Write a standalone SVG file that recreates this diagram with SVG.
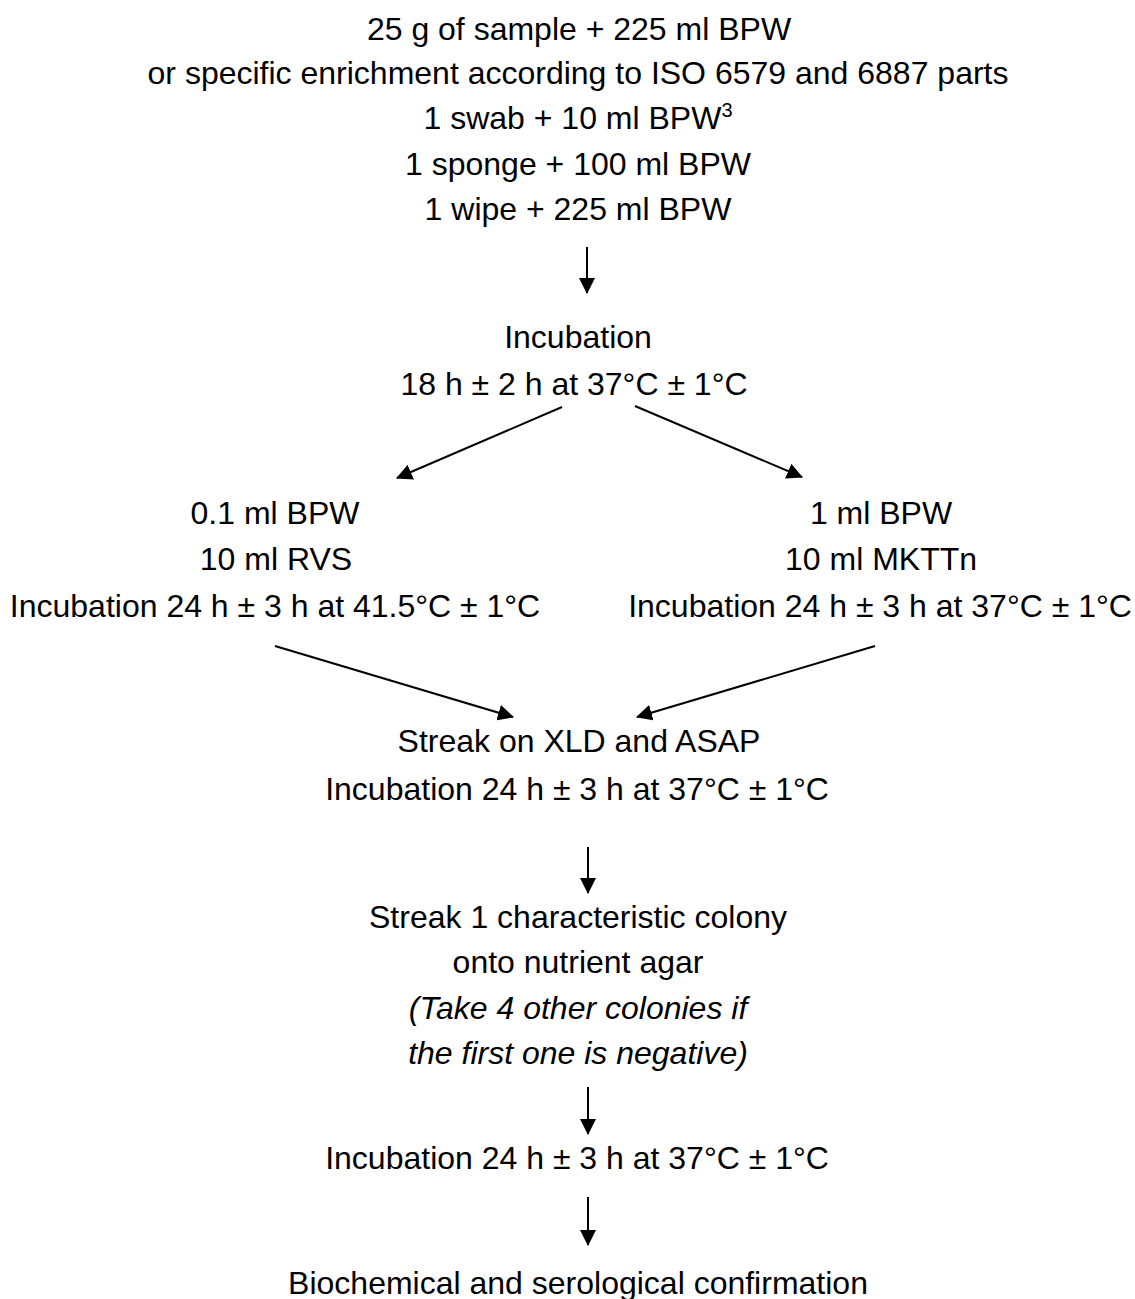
<svg xmlns="http://www.w3.org/2000/svg" width="1135" height="1299" viewBox="0 0 1135 1299">
<style>
text{font-family:"Liberation Sans",Arial,sans-serif;font-size:32px;fill:#000;text-anchor:middle}
.it{font-style:italic}
.c{stroke:#000;stroke-width:2;fill:none}
</style>
<defs>
<marker id="ah" markerWidth="16" markerHeight="16" viewBox="0 0 16 16" refX="15" refY="8" orient="auto" markerUnits="userSpaceOnUse">
<path d="M0,0 L16,8 L0,16 z" fill="#000"/>
</marker>
</defs>
<rect width="1135" height="1299" fill="#fff"/>
<g id="n1">
<text x="579" y="40">25 g of sample + 225 ml BPW</text>
<text x="578" y="84">or specific enrichment according to ISO 6579 and 6887 parts</text>
<text x="578" y="129">1 swab + 10 ml BPW<tspan font-size="20" dy="-12">3</tspan></text>
<text x="578" y="175">1 sponge + 100 ml BPW</text>
<text x="578" y="220">1 wipe + 225 ml BPW</text>
</g>
<g id="n2">
<text x="578" y="348">Incubation</text>
<text x="574" y="395">18 h ± 2 h at 37°C ± 1°C</text>
</g>
<g id="n3">
<text x="275" y="524">0.1 ml BPW</text>
<text x="276" y="570">10 ml RVS</text>
<text x="275" y="617">Incubation 24 h ± 3 h at 41.5°C ± 1°C</text>
</g>
<g id="n4">
<text x="881" y="524">1 ml BPW</text>
<text x="881" y="570">10 ml MKTTn</text>
<text x="880" y="617">Incubation 24 h ± 3 h at 37°C ± 1°C</text>
</g>
<g id="n5">
<text x="579" y="752">Streak on XLD and ASAP</text>
<text x="577" y="800">Incubation 24 h ± 3 h at 37°C ± 1°C</text>
</g>
<g id="n6">
<text x="578" y="928">Streak 1 characteristic colony</text>
<text x="578" y="973">onto nutrient agar</text>
<text class="it" x="578" y="1019">(Take 4 other colonies if</text>
<text class="it" x="578" y="1064">the first one is negative)</text>
</g>
<g id="n7">
<text x="577" y="1169">Incubation 24 h ± 3 h at 37°C ± 1°C</text>
</g>
<g id="n8">
<text x="578" y="1294">Biochemical and serological confirmation</text>
</g>
<g id="connectors">
<line class="c" x1="587" y1="247" x2="587" y2="293" marker-end="url(#ah)"/>
<line class="c" x1="562" y1="407" x2="397" y2="478" marker-end="url(#ah)"/>
<line class="c" x1="635" y1="406" x2="802" y2="477" marker-end="url(#ah)"/>
<line class="c" x1="275" y1="646" x2="513" y2="717" marker-end="url(#ah)"/>
<line class="c" x1="875" y1="646" x2="637" y2="717" marker-end="url(#ah)"/>
<line class="c" x1="588" y1="847" x2="588" y2="893" marker-end="url(#ah)"/>
<line class="c" x1="588" y1="1087" x2="588" y2="1134" marker-end="url(#ah)"/>
<line class="c" x1="588" y1="1197" x2="588" y2="1245" marker-end="url(#ah)"/>
</g>
</svg>
